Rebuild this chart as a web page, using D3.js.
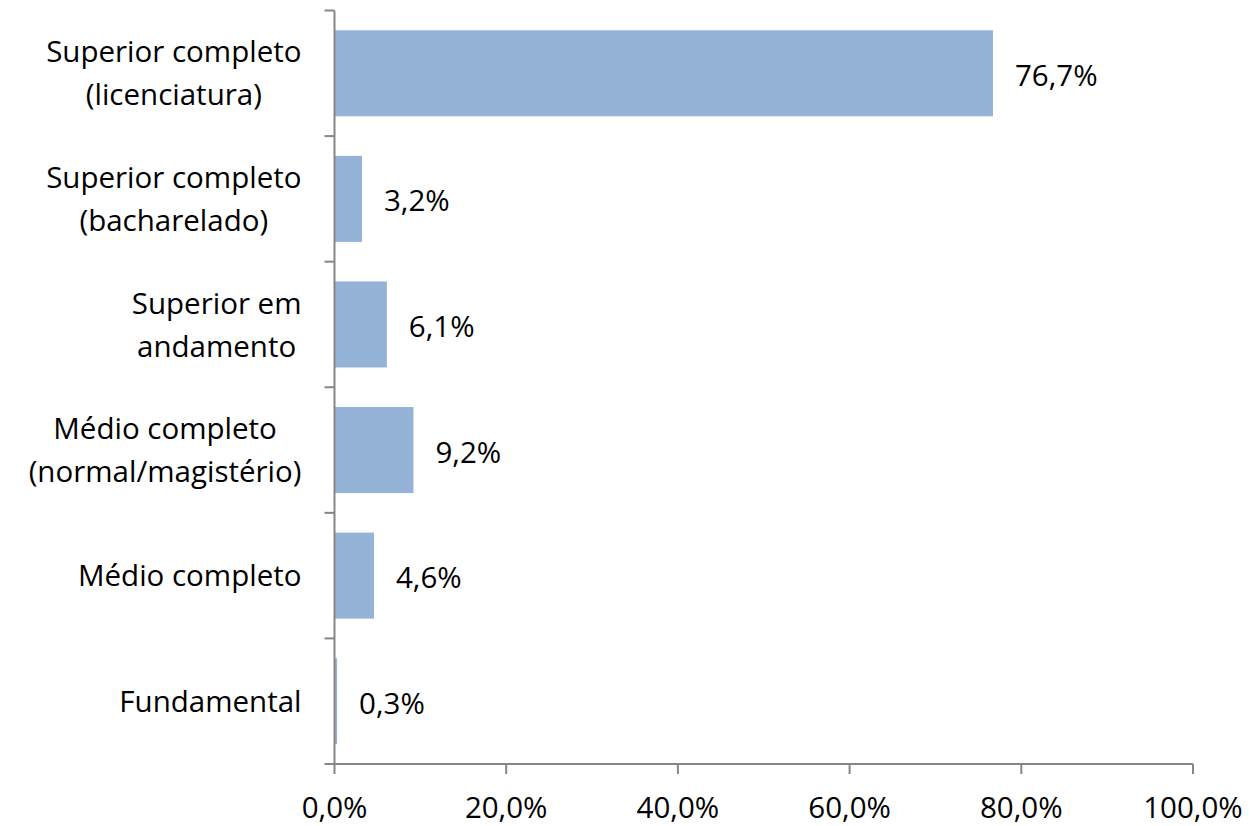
<!DOCTYPE html>
<html>
<head>
<meta charset="utf-8">
<script src="https://cdn.jsdelivr.net/npm/d3@7"></script>
<style>
  body { margin: 0; background: #fff; }
  text { font-family: "Open Sans", Lato, sans-serif; fill: #000; }
</style>
</head>
<body>
<div class="escolaridade"></div>
<script>
// Escolaridade (top to bottom)
var categorias = [
    ["Superior completo", "(licenciatura)"],
    ["Superior completo", "(bacharelado)"],
    ["Superior em", "andamento"],
    ["Médio completo", "(normal/magistério)"],
    ["Médio completo"],
    ["Fundamental"]
];
var valores = [76.7, 3.2, 6.1, 9.2, 4.6, 0.3];
var ticksX = [0, 20, 40, 60, 80, 100];

var margin = { top: 10.5, right: 57, bottom: 62, left: 334.5 },
    width = 1250 - margin.left - margin.right,
    height = 826 - margin.top - margin.bottom;

var fontSize = "29.5px";

var svg = d3.select('.escolaridade')
    .append('svg')
    .attr("width", 1250)
    .attr("height", 826)
    .append("g")
    .attr("transform", "translate(" + margin.left + "," + margin.top + ")");

var x = d3.scaleLinear()
    .domain([0, 100])
    .range([0, width]);

var y = d3.scaleBand()
    .domain(d3.range(categorias.length))
    .range([0, height])
    .padding(0);

var barH = y.bandwidth() * 0.685;
var fmt = function(v) { return v.toFixed(1).replace(".", ",") + "%"; };

// bars
svg.selectAll("rect.barra")
    .data(valores)
    .enter()
    .append("rect")
    .attr("class", "barra")
    .attr("fill", "#95b3d7")
    .attr("x", x(0))
    .attr("y", function(d, i) { return y(i) + (y.bandwidth() - barH) / 2; })
    .attr("width", function(d) { return x(d) - x(0); })
    .attr("height", barH);

// value labels
svg.selectAll("text.valor")
    .data(valores)
    .enter()
    .append("text")
    .attr("class", "valor")
    .attr("x", function(d) { return x(d) + 22; })
    .attr("y", function(d, i) { return y(i) + y.bandwidth() / 2 + 2; })
    .attr("dy", "0.36em")
    .style("font-size", fontSize)
    .text(fmt);

// x axis
var gx = svg.append("g")
    .attr("transform", "translate(0," + height + ")");
gx.append("line")
    .attr("x1", x(0)).attr("x2", x(100))
    .attr("stroke", "#868686").attr("stroke-width", 2);
gx.selectAll("line.tick")
    .data(ticksX)
    .enter()
    .append("line")
    .attr("x1", function(d) { return x(d); })
    .attr("x2", function(d) { return x(d); })
    .attr("y1", 0).attr("y2", 10)
    .attr("stroke", "#868686").attr("stroke-width", 2);
gx.selectAll("text")
    .data(ticksX)
    .enter()
    .append("text")
    .attr("x", function(d) { return x(d); })
    .attr("y", 54)
    .attr("text-anchor", "middle")
    .style("font-size", fontSize)
    .text(function(d) { return fmt(d); });

// y axis
var gy = svg.append("g");
gy.append("line")
    .attr("y1", 0).attr("y2", height)
    .attr("stroke", "#868686").attr("stroke-width", 2);
gy.selectAll("line.tick")
    .data(d3.range(categorias.length + 1))
    .enter()
    .append("line")
    .attr("x1", -10).attr("x2", 0)
    .attr("y1", function(i) { return i * y.step(); })
    .attr("y2", function(i) { return i * y.step(); })
    .attr("stroke", "#868686").attr("stroke-width", 2);

// category labels: block right aligned, lines centered within block
var lineH = 43;
categorias.forEach(function(linhas, i) {
    var g = gy.append("g");
    var cy = y(i) + y.bandwidth() / 2;
    var texts = linhas.map(function(l, k) {
        return g.append("text")
            .attr("y", cy + (k - (linhas.length - 1) / 2) * lineH)
            .attr("dy", "0.36em")
            .attr("text-anchor", "middle")
            .style("font-size", fontSize)
            .text(l);
    });
    var w = d3.max(texts, function(t) { return t.node().getComputedTextLength(); });
    texts.forEach(function(t) { t.attr("x", -33 - w / 2); });
});
</script>
</body>
</html>
